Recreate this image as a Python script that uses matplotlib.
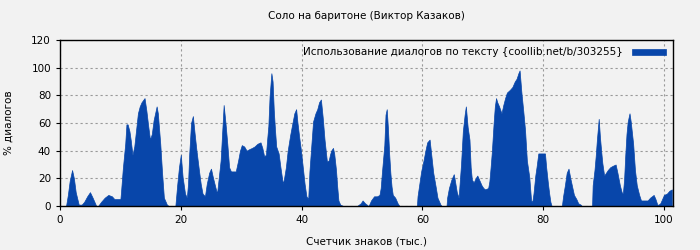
import matplotlib
matplotlib.use("Agg")
import matplotlib.pyplot as plt

# Соло на баритоне -- доля диалогов по ходу текста
# x: счетчик знаков (тыс.), y: % диалогов
chars_k = [
    0, 1.0, 1.3, 1.6, 2.0, 2.3, 2.6, 3.1, 3.6, 4.0, 4.5, 4.96, 5.4, 6.0, 6.3, 6.8,
    7.4, 8.0, 8.6, 9.0, 10.0, 10.1, 10.4, 10.6, 10.8, 11.0, 11.2, 11.5, 11.7, 12.0,
    12.3, 12.6, 12.9, 13.2, 13.5, 14.0, 14.3, 14.6, 14.9, 15.2, 15.5, 16.0, 16.2,
    16.4, 16.6, 16.9, 17.2, 17.5, 17.7, 18.0, 19.1, 19.4, 19.7, 20.0, 20.3, 20.7,
    21.0, 21.2, 21.4, 21.7, 22.0, 22.3, 22.6, 23.0, 23.3, 23.6, 24.0, 24.3, 24.7,
    25.0, 25.3, 25.7, 26.0, 26.3, 26.6, 26.9, 27.1, 27.4, 27.7, 28.0, 28.3, 29.1,
    29.5, 29.8, 30.1, 30.5, 30.9, 31.3, 31.8, 32.2, 32.7, 33.2, 33.5, 33.8, 34.1,
    34.3, 34.5, 34.7, 35.0, 35.2, 35.4, 35.6, 35.8, 36.2, 36.5, 36.9, 37.1, 37.4,
    37.7, 38.1, 38.4, 38.8, 39.1, 39.3, 39.6, 39.9, 40.2, 40.5, 40.8, 41.1, 41.3,
    41.6, 41.9, 42.3, 42.6, 42.9, 43.2, 43.5, 43.8, 44.2, 44.5, 44.7, 44.9, 45.2,
    45.4, 45.7, 45.9, 46.1, 46.4, 46.9, 49.2, 49.5, 49.8, 50.1, 50.5, 50.8, 51.0,
    51.2, 51.5, 52.0, 52.5, 52.9, 53.1, 53.3, 53.5, 53.7, 53.9, 54.1, 54.3, 54.5,
    54.7, 54.9, 55.1, 55.5, 55.9, 56.2, 59.1, 59.2, 59.5, 59.8, 60.2, 60.5, 60.8,
    61.2, 61.5, 61.8, 62.2, 62.5, 62.8, 63.0, 63.2, 64.0, 64.1, 64.4, 64.8, 65.2,
    65.4, 65.7, 66.0, 66.2, 66.4, 66.7, 67.0, 67.2, 67.5, 67.8, 68.0, 68.2, 68.5,
    68.8, 69.1, 69.4, 69.8, 70.1, 70.4, 70.9, 71.1, 71.3, 71.5, 71.8, 72.0, 72.2,
    72.4, 72.7, 73.1, 73.4, 73.7, 74.0, 74.5, 74.9, 75.3, 75.6, 75.9, 76.1, 76.4,
    76.7, 77.0, 77.3, 77.7, 78.0, 78.2, 78.4, 78.7, 78.9, 79.2, 80.3, 80.5, 80.8,
    81.0, 81.2, 81.4, 83.1, 83.3, 83.6, 83.9, 84.2, 84.5, 84.8, 85.1, 85.5, 85.8,
    86.2, 86.4, 88.1, 88.2, 88.5, 88.7, 88.9, 89.2, 89.4, 89.6, 89.8, 90.1, 90.4,
    90.7, 91.1, 91.5, 92.0, 92.3, 92.7, 93.0, 93.2, 93.4, 93.6, 93.8, 94.0, 94.3,
    94.5, 94.9, 95.2, 95.5, 95.9, 96.2, 97.3, 97.7, 98.0, 98.3, 98.6, 98.9, 99.1,
    99.4, 99.7, 100.0, 100.5, 100.9, 101.3,
]
dialog_pct = [
    0, 0, 8, 18, 26, 20, 10, 1, 1, 3, 7, 10, 6, 0, 0, 3,
    6, 8, 7, 5, 5, 10, 27, 36, 45, 59, 59, 54, 48, 37,
    43, 55, 67, 72, 75, 78, 69, 58, 48, 52, 62, 72, 67,
    56, 45, 24, 6, 3, 1, 0, 0, 15, 28, 37, 21, 9,
    6, 16, 38, 60, 65, 52, 40, 26, 16, 9, 7, 16, 24,
    27, 21, 14, 9, 21, 33, 57, 73, 60, 45, 28, 25, 25,
    33, 40, 44, 43, 40, 41, 42, 43, 45, 46, 42, 36, 37,
    48, 58, 79, 96, 90, 69, 55, 43, 38, 28, 16, 20, 28,
    40, 51, 58, 67, 70, 61, 50, 40, 28, 16, 7, 5, 25,
    43, 61, 67, 70, 75, 77, 64, 48, 32, 33, 37, 40, 42,
    38, 26, 14, 4, 1, 0, 0, 1, 2, 4, 2, 1, 0,
    1, 4, 7, 7, 8, 13, 24, 34, 44, 66, 70, 56, 38,
    24, 14, 8, 6, 2, 0, 0, 7, 16, 25, 33, 40, 46,
    48, 36, 24, 14, 6, 3, 1, 0, 0, 6, 13, 19, 23,
    18, 10, 6, 18, 30, 54, 66, 72, 57, 48, 28, 19, 17,
    20, 22, 19, 15, 13, 12, 13, 18, 28, 39, 60, 72, 78,
    75, 72, 67, 73, 78, 82, 84, 86, 90, 92, 96, 98, 82,
    69, 55, 33, 21, 4, 3, 9, 22, 28, 38, 38, 28, 16,
    9, 3, 0, 0, 7, 15, 24, 27, 20, 14, 8, 5, 2,
    1, 0, 0, 15, 26, 36, 48, 63, 50, 40, 31, 22, 24,
    26, 28, 29, 30, 24, 15, 10, 9, 19, 37, 52, 61, 67,
    61, 45, 26, 15, 8, 4, 4, 6, 7, 8, 5, 1, 1,
    2, 5, 8, 9, 11, 12,
]

x_ticks = [0, 20, 40, 60, 80, 100]
y_ticks = [0, 20, 40, 60, 80, 100, 120]

titulo = "Соло на баритоне (Виктор Казаков)"
leyenda = "Использование диалогов по тексту {coollib.net/b/303255}"
azul = "#0846aa"
fondo = "#f2f2f2"

plt.rcParams["font.family"] = ["DejaVu Sans"]
plt.rcParams["font.size"] = 7.5

fig = plt.figure(figsize=(7, 2.5), dpi=100, facecolor=fondo)
ax = fig.add_axes([60 / 700, 44 / 250, 613 / 700, 166 / 250])
ax.set_facecolor(fondo)

ax.fill_between(chars_k, dialog_pct, 0, color=azul, linewidth=0.5, edgecolor=azul, label=leyenda)

ax.set_xlim(0, 101.5)
ax.set_ylim(0, 120)
ax.set_xticks(x_ticks)
ax.set_yticks(y_ticks)
ax.set_axisbelow(True)
ax.grid(True, color="#999999", linestyle=(0, (2, 2.5)), linewidth=0.8)

for s in ax.spines.values():
    s.set_color("black")
    s.set_linewidth(1.0)
ax.tick_params(direction="out", length=3, width=0.8, colors="black", labelsize=7.5)

ax.set_title(titulo, fontsize=7.5, pad=15)
ax.set_xlabel("Счетчик знаков (тыс.)", fontsize=7.5, labelpad=8)
ax.set_ylabel("% диалогов", fontsize=7.5, labelpad=13)

ax.legend(loc="upper right", frameon=False, markerfirst=False, fontsize=7.5,
          handlelength=3.2, handleheight=0.5, borderaxespad=0.3, handletextpad=0.9)

fig.savefig("out.png", dpi=100, facecolor=fondo)
